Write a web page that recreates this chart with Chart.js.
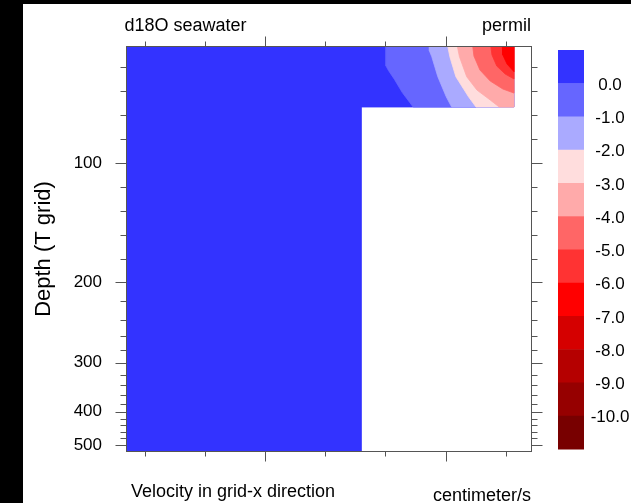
<!DOCTYPE html>
<html><head><meta charset="utf-8">
<script src="https://cdn.jsdelivr.net/npm/chart.js@4.4.0/dist/chart.umd.min.js"></script>
<style>
html,body{margin:0;padding:0;background:#000;width:631px;height:503px;overflow:hidden}
#wrap{position:absolute;left:23px;top:4px;width:608px;height:499px;background:#fff}
canvas{display:block}
</style></head><body>
<div id="wrap"><canvas id="c" width="608" height="499"></canvas></div>
<script>
const FONT = "'Liberation Sans', Arial, Helvetica, sans-serif";

// T-grid level depths (m); the vertical axis is linear in level index
const levelDepths = [2,12,22,32,42,52,62,72,82,92,102,112,122,132,142,152,162,172,182,192,202,215,228,241,255,271,290,309,330,354,381,412,448,485,521];
const depthMajorTicks = [100,200,300,400,500];
const depthMinorTicks = [20,40,60,80,120,140,160,180,220,240,260,280,320,340,360,380,420,440,460,480];
const xRange = [6.9, 74.35];
const xMajorTicks = [30,60];
const xMinorTicks = [10,20,40,50,70];

const contourLevels = [0,-1,-2,-3,-4,-5,-6,-7,-8,-9,-10];
const bandColors = ['#3333ff','#6666ff','#aaaaff','#ffdddd','#ffaaaa','#ff6666','#ff3333','#ff0000','#d50000','#b50000','#960000','#780000'];

// valid-data domain of the field (x, depth)
const domainX = [6.9, 71.36, 71.36, 45.95, 45.95, 6.9];
const domainD = [2, 2, 53.1, 53.1, 521, 521];

// contour lines (x, depth), from the top edge down to the shelf / right edge
const c0x = [50.1, 50.1, 50.5, 51.5, 52.8, 54.1, 54.6];
const c0d = [2, 18.8, 22.5, 30, 41, 49.7, 53.1];
const c1x = [57.3, 57.3, 57.7, 58.7, 60.1, 61.0];
const c1d = [2, 6, 11, 27.7, 44.5, 53.1];
const c2x = [60.35, 60.7, 61.7, 63.8, 65.05];
const c2d = [2, 11, 27.7, 44.5, 53.1];
const c3x = [61.94, 62.3, 63.5, 65.2, 67.4, 68.9];
const c3d = [2, 11, 27.7, 38.9, 47.2, 53.1];
const c4x = [64.5, 64.7, 65.7, 67.4, 69.5, 71.36];
const c4d = [2, 10.4, 22.1, 31.3, 38.0, 41.4];
const c5x = [67.5, 67.7, 68.5, 69.9, 71.36];
const c5d = [2, 9.5, 18.8, 25.5, 29.6];
const c6x = [69.4, 69.5, 70.2, 71.36];
const c6d = [2, 9.5, 17.1, 23.5];

function depthToIdx(d){
  const L = levelDepths;
  if (d <= L[0]) return (d - L[0]) / (L[1] - L[0]);
  for (let i = 0; i < L.length - 1; i++) {
    if (d <= L[i+1]) return i + (d - L[i]) / (L[i+1] - L[i]);
  }
  const n = L.length - 1;
  return n + (d - L[n]) / (L[n] - L[n-1]);
}
function toPts(xs, ds){ return xs.map((x,i)=>({x:x, y:depthToIdx(ds[i])})); }
function closed(xs, ds){ return toPts(xs.concat([xs[0]]), ds.concat([ds[0]])); }
function bandPolygon(cx, cd){
  const xs = cx.slice(), ds = cd.slice();
  const edgeX = domainX[1], shelfD = domainD[2], topD = domainD[0];
  if (ds[ds.length-1] >= shelfD - 1e-6) { xs.push(edgeX); ds.push(shelfD); }
  xs.push(edgeX); ds.push(topD);
  return closed(xs, ds);
}

const contours = [[c0x,c0d],[c1x,c1d],[c2x,c2d],[c3x,c3d],[c4x,c4d],[c5x,c5d],[c6x,c6d]];
// Chart.js paints the last dataset first, so the innermost band goes first
const datasets = [{data: closed(domainX, domainD), color: bandColors[0]}]
  .concat(contours.map((c,i)=>({data: bandPolygon(c[0], c[1]), color: bandColors[i+1]})))
  .reverse()
  .map(o=>({data:o.data, showLine:true, fill:'shape', backgroundColor:o.color, borderColor:o.color,
            borderWidth:0.8, pointRadius:0, tension:0}));

const decor = {
  id:'decor',
  afterDatasetsDraw(chart){
    const {ctx, chartArea:a, scales:{x,y}} = chart;
    ctx.save();
    ctx.strokeStyle = '#555'; ctx.lineWidth = 1;
    const L = Math.round(a.left)+0.5, R = Math.round(a.right)-0.5, T = Math.round(a.top)+0.5, B = Math.round(a.bottom)-0.5;
    ctx.strokeRect(L, T, R-L, B-T);
    ctx.beginPath();
    const xt = xMajorTicks.map(v=>[v,10]).concat(xMinorTicks.map(v=>[v,5]));
    xt.forEach(([v,len])=>{
      const p = Math.round(x.getPixelForValue(v))+0.5;
      ctx.moveTo(p, T); ctx.lineTo(p, T-len);
      ctx.moveTo(p, B); ctx.lineTo(p, B+len);
    });
    const yt = depthMajorTicks.map(d=>[d,11]).concat(depthMinorTicks.map(d=>[d,6]));
    yt.forEach(([d,len])=>{
      const p = Math.round(y.getPixelForValue(depthToIdx(d)))+0.5;
      ctx.moveTo(L, p); ctx.lineTo(L-len, p);
      ctx.moveTo(R, p); ctx.lineTo(R+len, p);
    });
    ctx.stroke();

    // label bar
    const bx = 535, bw = 26, by = a.top + 4, bh = 399, n = bandColors.length, step = bh / n;
    bandColors.forEach((c,i)=>{ ctx.fillStyle = c; ctx.fillRect(bx, by + i*step, bw, step + 0.5); });
    ctx.fillStyle = '#000';
    ctx.font = '17px ' + FONT;
    ctx.textAlign = 'center'; ctx.textBaseline = 'middle';
    contourLevels.forEach((v,i)=>{ ctx.fillText(v.toFixed(1), 587, by + (i+1)*step + 2); });

    // strings
    ctx.font = '18px ' + FONT;
    ctx.textBaseline = 'alphabetic';
    ctx.textAlign = 'left';
    ctx.fillText('d18O seawater', 101.5, 27);
    ctx.fillText('Velocity in grid-x direction', 108, 493);
    ctx.textAlign = 'right';
    ctx.fillText('permil', 508, 27);
    ctx.fillText('centimeter/s', 508, 497);
    ctx.restore();
  }
};

new Chart(document.getElementById('c'), {
  type:'scatter',
  data:{datasets:datasets},
  options:{
    responsive:false, animation:false, devicePixelRatio:1,
    layout:{padding:{top:42, right:99, bottom:0, left:0}},
    plugins:{legend:{display:false}, tooltip:{enabled:false}, title:{display:false}},
    scales:{
      x:{type:'linear', min:xRange[0], max:xRange[1],
         afterFit:s=>{ s.height = 51; },
         grid:{display:false, drawTicks:false}, border:{display:false}, ticks:{display:false}},
      y:{type:'linear', reverse:true, min:0, max:levelDepths.length-1,
         afterBuildTicks:s=>{ s.ticks = depthMajorTicks.map(d=>({value:depthToIdx(d)})); },
         afterFit:s=>{ s.width = 103; },
         grid:{display:false, drawTicks:false}, border:{display:false},
         ticks:{autoSkip:false, padding:24, color:'#000', font:{family:FONT, size:17},
                callback:(v,i)=>String(depthMajorTicks[i])},
         title:{display:true, text:'Depth (T grid)', color:'#000', font:{family:FONT, size:22}, padding:{top:8, bottom:0}}}
    }
  },
  plugins:[decor]
});
</script>
</body></html>
